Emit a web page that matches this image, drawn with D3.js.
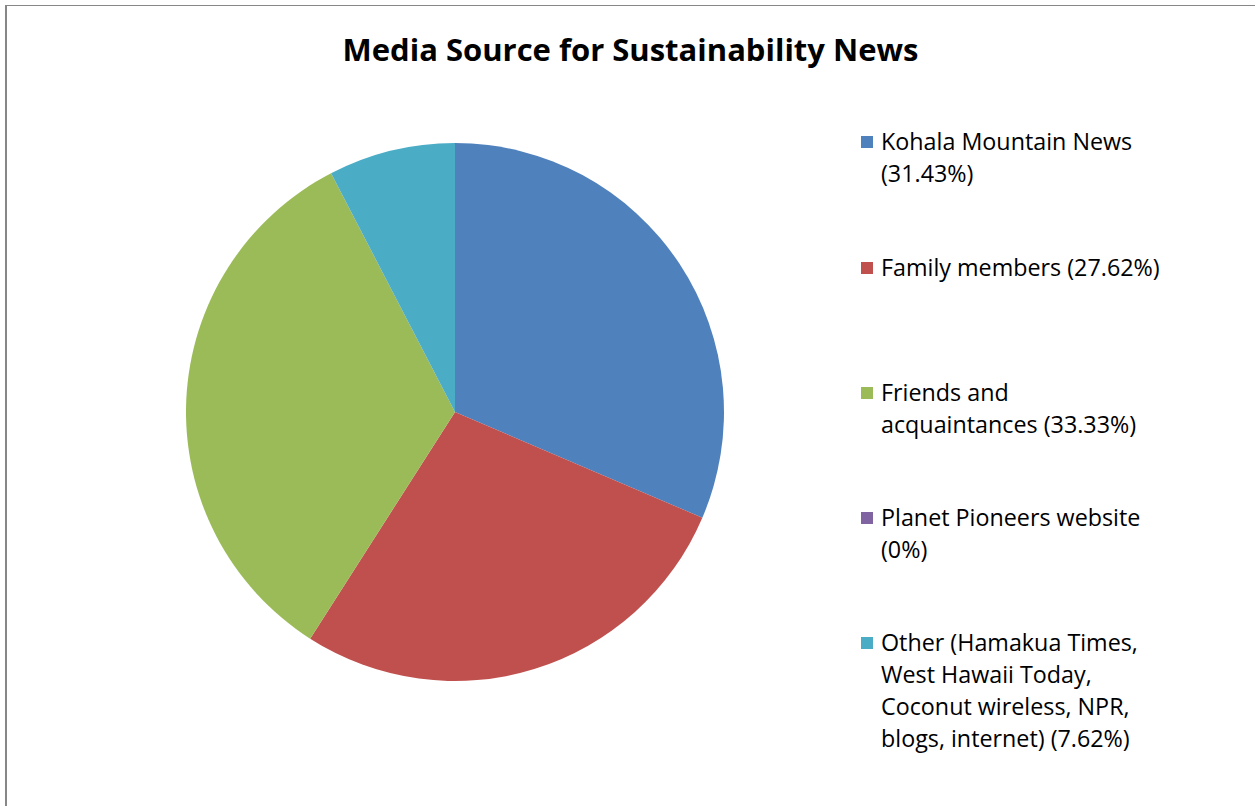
<!DOCTYPE html>
<html><head><meta charset="utf-8">
<script src="https://cdn.jsdelivr.net/npm/d3@7"></script>
<style>body{margin:0;background:#fff}svg{display:block}</style>
</head><body>
<svg id="c" width="1255" height="806"></svg>
<script>
const title = "Media Source for Sustainability News";
const categories = ["Kohala Mountain News","Family members","Friends and acquaintances","Planet Pioneers website","Other (Hamakua Times, West Hawaii Today, Coconut wireless, NPR, blogs, internet)"];
const values = [31.43, 27.62, 33.33, 0, 7.62];
const colors = ["#4F81BD","#C0504D","#9BBB59","#8064A2","#4BACC6"];
const legendLines = [
  ["Kohala Mountain News","(31.43%)"],
  ["Family members (27.62%)"],
  ["Friends and","acquaintances (33.33%)"],
  ["Planet Pioneers website","(0%)"],
  ["Other (Hamakua Times,","West Hawaii Today,","Coconut wireless, NPR,","blogs, internet) (7.62%)"]
];

const svg = d3.select("#c");
const font = "'Open Sans', sans-serif";
// border
svg.append("path").attr("d","M6,806 V5.5 H1255").attr("fill","none").attr("stroke","#878787").attr("stroke-width",1);
svg.append("line").attr("x1",6).attr("x2",6).attr("y1",5).attr("y2",806).attr("stroke","#878787").attr("stroke-width",2);

svg.append("text").attr("x",630.5).attr("y",61).attr("text-anchor","middle")
  .attr("font-family",font).attr("font-weight","bold").attr("font-size",31).attr("fill","#000").text(title);

const cx = 455, cy = 412, r = 269;
const pie = d3.pie().sort(null).value(d=>d)(values);
const arc = d3.arc().innerRadius(0).outerRadius(r);
const g = svg.append("g").attr("transform",`translate(${cx},${cy})`);
g.selectAll("path").data(pie).join("path").attr("d",arc).attr("fill",(d,i)=>colors[i]);

const lg = svg.append("g");
const starts = [142, 268, 393, 518, 643];
const lh = 32;
legendLines.forEach((lines,i)=>{
  lg.append("rect").attr("x",861).attr("y",starts[i]-6).attr("width",12).attr("height",12).attr("fill",colors[i]);
  const t = lg.append("text").attr("font-family",font).attr("font-size",23.3).attr("fill","#000");
  lines.forEach((s,j)=>{
    t.append("tspan").attr("x",881).attr("y",starts[i]+8+j*lh).text(s);
  });
});
</script>
</body></html>
